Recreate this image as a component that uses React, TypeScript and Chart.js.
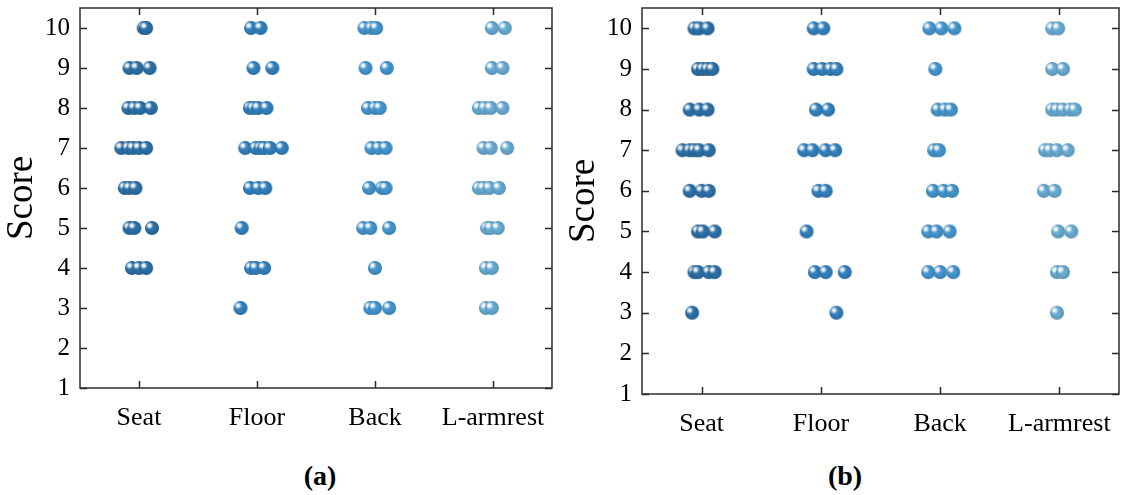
import React, { useEffect, useRef } from "react";
import { Chart, registerables } from "chart.js";

Chart.register(...registerables);

const categories = ["Seat", "Floor", "Back", "L-armrest"];
const categoryTicks = [0, 1, 2, 3];
const scoreTicks = [1, 2, 3, 4, 5, 6, 7, 8, 9, 10];
const colors = ["#2d72aa", "#3382bf", "#4597d0", "#6aadd5"];

// Panel (a)
const seatScoresA = [10, 10, 9, 9, 9, 8, 8, 8, 8, 7, 7, 7, 7, 7, 6, 6, 6, 5, 5, 5, 4, 4, 4];
const seatJitterA = [0.04, 0.06, -0.08, -0.02, 0.09, -0.09, -0.04, 0.01, 0.1, -0.15, -0.09, -0.05, 0.0, 0.06, -0.12, -0.08, -0.03, -0.08, -0.04, 0.11, -0.06, 0.0, 0.06];
const floorScoresA = [10, 10, 9, 9, 8, 8, 8, 8, 7, 7, 7, 7, 7, 7, 6, 6, 6, 5, 4, 4, 4, 3];
const floorJitterA = [-0.05, 0.03, -0.03, 0.13, -0.06, -0.03, 0.01, 0.08, -0.1, -0.01, 0.03, 0.06, 0.11, 0.21, -0.06, 0.01, 0.07, -0.13, -0.05, -0.01, 0.06, -0.14];
const backScoresA = [10, 10, 10, 9, 9, 8, 8, 8, 7, 7, 7, 6, 6, 6, 5, 5, 5, 4, 3, 3, 3];
const backJitterA = [-0.09, -0.03, 0.01, -0.08, 0.1, -0.06, 0.0, 0.04, -0.03, 0.03, 0.09, -0.05, 0.06, 0.09, -0.1, -0.04, 0.12, 0.0, -0.04, 0.0, 0.12];
const armScoresA = [10, 10, 9, 9, 8, 8, 8, 8, 7, 7, 7, 6, 6, 6, 6, 5, 5, 5, 4, 4, 3, 3];
const armJitterA = [-0.01, 0.1, -0.01, 0.08, -0.12, -0.07, -0.02, 0.08, -0.08, -0.02, 0.12, -0.12, -0.08, -0.03, 0.05, -0.05, -0.02, 0.04, -0.06, -0.01, -0.06, -0.01];

// Panel (b)
const seatScoresB = [10, 10, 10, 9, 9, 9, 9, 8, 8, 8, 7, 7, 7, 7, 7, 6, 6, 6, 5, 5, 5, 4, 4, 4, 4, 3];
const seatJitterB = [-0.06, -0.02, 0.05, -0.03, 0.01, 0.05, 0.09, -0.1, -0.02, 0.05, -0.16, -0.1, -0.06, -0.02, 0.06, -0.1, 0.0, 0.06, -0.03, 0.01, 0.11, -0.06, -0.03, 0.06, 0.11, -0.08];
const floorScoresB = [10, 10, 9, 9, 9, 9, 8, 8, 7, 7, 7, 7, 6, 6, 5, 4, 4, 4, 3];
const floorJitterB = [-0.06, 0.02, -0.06, 0.01, 0.08, 0.13, -0.04, 0.06, -0.14, -0.07, 0.04, 0.12, -0.02, 0.04, -0.12, -0.05, 0.04, 0.2, 0.13];
const backScoresB = [10, 10, 10, 9, 8, 8, 8, 7, 7, 6, 6, 6, 5, 5, 5, 4, 4, 4];
const backJitterB = [-0.09, 0.01, 0.12, -0.04, -0.02, 0.04, 0.09, -0.05, -0.01, -0.06, 0.03, 0.1, -0.1, -0.03, 0.08, -0.1, 0.0, 0.11];
const armScoresB = [10, 10, 9, 9, 8, 8, 8, 8, 8, 7, 7, 7, 7, 6, 6, 5, 5, 4, 4, 3];
const armJitterB = [-0.06, -0.01, -0.06, 0.03, -0.06, -0.02, 0.03, 0.09, 0.13, -0.12, -0.08, -0.02, 0.07, -0.13, -0.04, -0.01, 0.1, -0.02, 0.03, -0.02];

const panelA = [
  [seatScoresA, seatJitterA],
  [floorScoresA, floorJitterA],
  [backScoresA, backJitterA],
  [armScoresA, armJitterA],
];
const panelB = [
  [seatScoresB, seatJitterB],
  [floorScoresB, floorJitterB],
  [backScoresB, backJitterB],
  [armScoresB, armJitterB],
];

const FONT = "'Liberation Serif', 'Times New Roman', serif";

function makeSphere(color: string, r: number): HTMLCanvasElement {
  const size = 2 * r + 2;
  const c = document.createElement("canvas");
  c.width = size;
  c.height = size;
  const ctx = c.getContext("2d")!;
  const cx = size / 2;
  const cy = size / 2;
  ctx.beginPath();
  ctx.arc(cx, cy, r, 0, Math.PI * 2);
  ctx.fillStyle = color;
  ctx.fill();
  const rim = ctx.createRadialGradient(cx - r * 0.2, cy - r * 0.2, r * 0.45, cx, cy, r);
  rim.addColorStop(0, "rgba(0,0,0,0)");
  rim.addColorStop(1, "rgba(0,0,0,0.15)");
  ctx.beginPath();
  ctx.arc(cx, cy, r, 0, Math.PI * 2);
  ctx.fillStyle = rim;
  ctx.fill();
  const hx = cx - r * 0.35;
  const hy = cy - r * 0.35;
  const hl = ctx.createRadialGradient(hx, hy, 0, hx, hy, r * 0.55);
  hl.addColorStop(0, "rgba(255,255,255,1)");
  hl.addColorStop(0.35, "rgba(255,255,255,0.85)");
  hl.addColorStop(1, "rgba(255,255,255,0)");
  ctx.beginPath();
  ctx.arc(cx, cy, r, 0, Math.PI * 2);
  ctx.fillStyle = hl;
  ctx.fill();
  return c;
}

const framePlugin = {
  id: "frameTicks",
  afterDraw(chart: any) {
    const { ctx, chartArea, scales } = chart;
    const { left, right, top, bottom } = chartArea;
    const len = 7;
    ctx.save();
    ctx.strokeStyle = "#2b2b2b";
    ctx.lineWidth = 1.5;
    ctx.strokeRect(left, top, right - left, bottom - top);
    ctx.beginPath();
    scales.x.ticks.forEach((t: any) => {
      const px = Math.round(scales.x.getPixelForValue(t.value)) + 0.5;
      ctx.moveTo(px, bottom);
      ctx.lineTo(px, bottom - len);
      ctx.moveTo(px, top);
      ctx.lineTo(px, top + len);
    });
    scales.y.ticks.forEach((t: any) => {
      const py = Math.round(scales.y.getPixelForValue(t.value)) + 0.5;
      ctx.moveTo(left, py);
      ctx.lineTo(left + len, py);
      ctx.moveTo(right, py);
      ctx.lineTo(right - len, py);
    });
    ctx.stroke();
    ctx.restore();
  },
};

function Panel(props: {
  panel: number[][][];
  width: number;
  height: number;
  padTop: number;
  padRight: number;
  xHeight: number;
  left: number;
}) {
  const ref = useRef<HTMLCanvasElement>(null);
  useEffect(() => {
    const canvas = ref.current!;
    const datasets = props.panel.map(([scores, jitter], ci) => ({
      label: categories[ci],
      data: scores.map((s, i) => ({ x: ci + jitter[i], y: s })),
      pointStyle: makeSphere(colors[ci], 7) as any,
      pointRadius: 7,
      backgroundColor: colors[ci],
      borderColor: colors[ci],
      showLine: false,
    }));
    const chart = new Chart(canvas, {
      type: "scatter",
      data: { datasets },
      plugins: [framePlugin],
      options: {
        animation: false,
        responsive: false,
        devicePixelRatio: 1,
        layout: { padding: { top: props.padTop, right: props.padRight, left: 0, bottom: 0 } },
        plugins: { legend: { display: false }, tooltip: { enabled: false } },
        scales: {
          x: {
            type: "linear",
            min: -0.5,
            max: 3.5,
            afterBuildTicks: (s: any) => {
              s.ticks = categoryTicks.map((v) => ({ value: v }));
            },
            afterFit: (s: any) => {
              s.height = props.xHeight;
              s.paddingLeft = 0;
              s.paddingRight = 0;
            },
            grid: { display: false, drawTicks: false },
            border: { display: false },
            ticks: {
              autoSkip: false,
              maxRotation: 0,
              padding: 15,
              color: "#000",
              font: { family: FONT, size: 26 },
              callback: (v: any) => categories[Math.round(Number(v))],
            },
          },
          y: {
            type: "linear",
            min: 1,
            max: 10.5,
            afterBuildTicks: (s: any) => {
              s.ticks = scoreTicks.map((v) => ({ value: v }));
            },
            afterFit: (s: any) => {
              s.width = 80;
              s.paddingTop = 0;
              s.paddingBottom = 0;
            },
            grid: { display: false, drawTicks: false },
            border: { display: false },
            ticks: {
              padding: 10,
              color: "#000",
              font: { family: FONT, size: 25 },
              callback: (v: any) => String(v),
            },
            title: {
              display: true,
              text: "Score",
              color: "#000",
              font: { family: FONT, size: 37 },
              padding: { top: 0, bottom: 0 },
            },
          },
        },
      },
    });
    return () => chart.destroy();
  }, []);
  return (
    <canvas
      ref={ref}
      width={props.width}
      height={props.height}
      style={{ position: "absolute", left: props.left, top: 0, width: props.width, height: props.height }}
    />
  );
}

export default function App() {
  const labelStyle = (cx: number): React.CSSProperties => ({
    position: "absolute",
    left: cx - 50,
    top: 461,
    width: 100,
    textAlign: "center",
    fontFamily: FONT,
    fontWeight: "bold",
    fontSize: 28,
    lineHeight: "30px",
    color: "#000",
  });
  return (
    <div style={{ position: "absolute", left: 0, top: 0, width: 1127, height: 495, background: "#fff", overflow: "hidden" }}>
      <Panel panel={panelA} width={560} height={440} padTop={5} padRight={3} xHeight={52} left={0} />
      <Panel panel={panelB} width={565} height={446} padTop={4} padRight={0} xHeight={52} left={562} />
      <div style={labelStyle(320)}>(a)</div>
      <div style={labelStyle(845)}>(b)</div>
    </div>
  );
}
